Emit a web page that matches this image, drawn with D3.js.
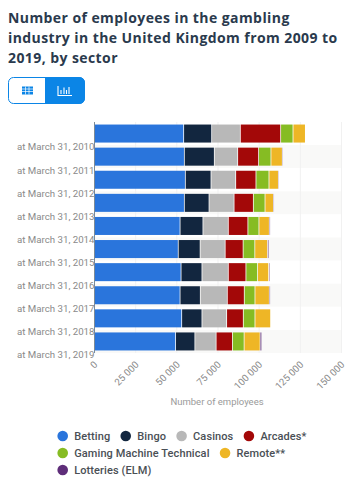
<!DOCTYPE html>
<html>
<head>
<meta charset="utf-8">
<script src="https://cdn.jsdelivr.net/npm/d3@7"></script>
<style>
    html, body { margin: 0; padding: 0; background: #fff; }
    svg { display: block; }
    .title { font-family: "Open Sans", sans-serif; font-size: 14px; font-weight: 700; fill: #2a3a4d; letter-spacing: 0.42px; }
    .axis text { font-family: Roboto, sans-serif; font-size: 9.7px; fill: #8a8a8a; }
    .axis path, .axis line { stroke: none; }
    .y-axis-line { stroke: #7c8a96; stroke-width: 1; }
    .x-title { font-family: Roboto, sans-serif; font-size: 9.5px; fill: #9a9a9a; }
    .legend text { font-family: Roboto, sans-serif; font-size: 11px; font-weight: 500; fill: #4a4f55; letter-spacing: 0.1px; }
</style>
</head>
<body>
<div id="chart"></div>
<script>
const years = ["at March 31, 2010", "at March 31, 2011", "at March 31, 2012", "at March 31, 2013", "at March 31, 2014",
    "at March 31, 2015", "at March 31, 2016", "at March 31, 2017", "at March 31, 2018", "at March 31, 2019"];
const sectors = ["Betting", "Bingo", "Casinos", "Arcades*", "Gaming Machine Technical", "Remote**", "Lotteries (ELM)"];
const colors = ["#2a75dc", "#12263f", "#b8b8b8", "#a30808", "#86bc23", "#eeb626", "#5e2d79"];

const betting = [54400, 54800, 55400, 54800, 52200, 51100, 52800, 52200, 53200, 49500];
const bingo = [17000, 18200, 15600, 15000, 13900, 13300, 12700, 12300, 12300, 11700];
const casinos = [17400, 14200, 15000, 15200, 15400, 15200, 16000, 16400, 15000, 12900];
const arcades = [24500, 12700, 12300, 11700, 11900, 10900, 10700, 10300, 10100, 9900];
const gamingMachine = [7500, 7500, 7900, 7100, 6700, 7100, 7100, 6500, 7100, 7100];
const remote = [7500, 6900, 5700, 5100, 6300, 7700, 6700, 8700, 9500, 9700];
const lotteries = [0, 600, 600, 600, 700, 800, 700, 700, 0, 1000];
const xTicks = [0, 25000, 50000, 75000, 100000, 125000, 150000];

const titleLines = ["Number of employees in the gambling", "industry in the United Kingdom from 2009 to", "2019, by sector"];

const seriesValues = [betting, bingo, casinos, arcades, gamingMachine, remote, lotteries];
const rows = years.map((y, i) => {
    let row = {year: y};
    sectors.forEach((s, j) => { row[s] = seriesValues[j][i]; });
    return row;
});

const svg = d3.select("#chart").append("svg")
    .attr("width", 351)
    .attr("height", 485);

// title
svg.selectAll(".title")
    .data(titleLines)
    .enter()
    .append("text")
    .attr("class", "title")
    .attr("x", 8)
    .attr("y", (d, i) => 23 + i * 20)
    .text(d => d);

// table / chart switch
const sw = svg.append("g").attr("transform", "translate(8,77)");
sw.append("rect")
    .attr("x", 0.5).attr("y", 0.5)
    .attr("width", 76).attr("height", 26)
    .attr("rx", 5)
    .attr("fill", "#fff")
    .attr("stroke", "#0b85e6");
sw.append("path")
    .attr("d", "M37,0H71a6,6 0 0 1 6,6V21a6,6 0 0 1 -6,6H37Z")
    .attr("fill", "#0b85e6");
sw.append("rect")
    .attr("x", 14).attr("y", 9.5)
    .attr("width", 11).attr("height", 8)
    .attr("fill", "#0b85e6");
[12, 14.5].forEach(y => sw.append("line").attr("x1", 14).attr("x2", 25).attr("y1", y).attr("y2", y).attr("stroke", "#fff").attr("stroke-width", 0.7));
[17.5, 21].forEach(x => sw.append("line").attr("x1", x).attr("x2", x).attr("y1", 9.5).attr("y2", 17.5).attr("stroke", "#fff").attr("stroke-width", 0.7));
sw.append("path")
    .attr("d", "M50,9V18.5H64M53,13V17M56,10.5V17M58.5,13V17M61,10V17")
    .attr("fill", "none")
    .attr("stroke", "#fff")
    .attr("stroke-width", 1.1);

// plot area
const margin = {top: 122, left: 94.5};
const width = 247;
const height = 231;

const g = svg.append("g")
    .attr("transform", "translate(" + margin.left + "," + margin.top + ")");

const x = d3.scaleLinear().domain([0, 150000]).range([0, width]);
const y = d3.scaleBand().domain(years).range([0, height]).paddingInner(0.22).paddingOuter(0.11);

// alternating row bands
g.selectAll(".row-band")
    .data(years)
    .enter()
    .append("rect")
    .attr("class", "row-band")
    .attr("x", 0)
    .attr("y", d => y(d) - y.step() * 0.11)
    .attr("width", width)
    .attr("height", y.step())
    .attr("fill", (d, i) => i % 2 ? "#f9f9f8" : "#fff");

// gridlines
g.selectAll(".grid")
    .data(xTicks.slice(1))
    .enter()
    .append("line")
    .attr("class", "grid")
    .attr("x1", d => x(d))
    .attr("x2", d => x(d))
    .attr("y1", 0)
    .attr("y2", height)
    .attr("stroke", "#f1f1f1");

// stacked bars
const stacked = d3.stack().keys(sectors)(rows);

g.selectAll(".layer")
    .data(stacked)
    .enter()
    .append("g")
    .attr("class", "layer")
    .attr("fill", (d, i) => colors[i])
    .selectAll("rect")
    .data(d => d)
    .enter()
    .append("rect")
    .attr("x", d => x(d[0]))
    .attr("y", d => y(d.data.year))
    .attr("width", d => Math.max(0, x(d[1]) - x(d[0]) - 0.8))
    .attr("height", y.bandwidth());

// axes
const fmt = d3.formatLocale({thousands: " ", grouping: [3], decimal: ".", currency: ["", ""]}).format(",d");

const xAxis = g.append("g")
    .attr("class", "x-axis axis")
    .attr("transform", "translate(0," + height + ")")
    .call(d3.axisBottom(x).tickValues(xTicks).tickFormat(fmt).tickSize(0));
xAxis.selectAll("text")
    .attr("text-anchor", "end")
    .attr("transform", "translate(1,10) rotate(-45)")
    .attr("dy", "0.32em")
    .attr("y", 0)
    .attr("x", 0);

// year labels sit on the lower edge of each row, like the original
const yAxis = g.append("g")
    .attr("class", "y-axis axis")
    .attr("transform", "translate(0," + (y.step() * 0.5 + 2.2) + ")")
    .call(d3.axisLeft(y).tickSize(0).tickPadding(0));

g.append("line")
    .attr("class", "y-axis-line")
    .attr("x1", 0).attr("x2", 0)
    .attr("y1", 0).attr("y2", height);

svg.append("text")
    .attr("class", "x-title")
    .attr("x", 217)
    .attr("y", 405)
    .attr("text-anchor", "middle")
    .text("Number of employees");

// legend, flows onto new lines like the original
const legend = svg.append("g").attr("class", "legend");
let lx = 62.7, ly = 436;
sectors.forEach((s, i) => {
    const item = legend.append("g");
    item.append("circle")
        .attr("cx", lx).attr("cy", ly).attr("r", 5.3)
        .attr("fill", colors[i]);
    const label = item.append("text")
        .attr("x", lx + 11.5)
        .attr("y", ly + 4)
        .text(s);
    let w = label.node().getComputedTextLength();
    if (lx + 11.5 + w > 320) {
        lx = 62.7;
        ly += 17;
        item.select("circle").attr("cx", lx).attr("cy", ly);
        label.attr("x", lx + 11.5).attr("y", ly + 4);
    }
    lx += 11.5 + w + 15.5;
});
</script>
</body>
</html>
